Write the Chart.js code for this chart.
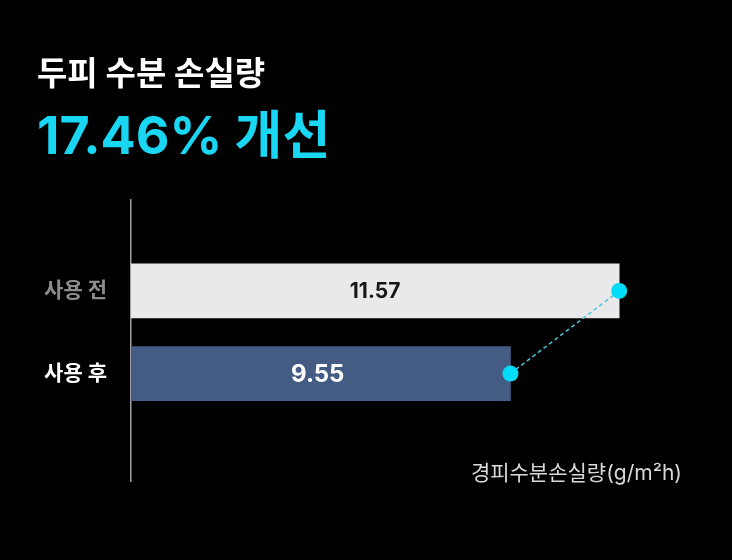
<!DOCTYPE html>
<html>
<head>
<meta charset="utf-8">
<script src="https://cdn.jsdelivr.net/npm/chart.js@4"></script>
<style>
  html, body { margin: 0; padding: 0; background: #000; }
  #wrap { width: 732px; height: 560px; }
</style>
</head>
<body>
<div id="wrap"><canvas id="c" width="732" height="560"></canvas></div>
<script>
const titleText = '두피 수분 손실량';
const subtitleText = '17.46% 개선';
const categories = ['사용 전', '사용 후'];
const values = [11.57, 9.55];
const valueLabels = ['11.57', '9.55'];
const unitLabel = '경피수분손실량(g/m²h)';

const FONT = 'Inter, "Noto Sans CJK KR", "Noto Sans", sans-serif';
const barColors = ['#e9e9ec', '#445c84'];
const tickColors = ['#8c8c8c', '#ffffff'];
const valueColors = ['#161616', '#ffffff'];
const valueSizes = [21, 24];

const points = categories.map((c, i) => ({ x: values[i], y: i }));

const bgPlugin = {
  id: 'bg',
  beforeDraw(chart) {
    const ctx = chart.ctx;
    ctx.save();
    ctx.fillStyle = '#000';
    ctx.fillRect(0, 0, chart.width, chart.height);
    ctx.restore();
  }
};

const labelPlugin = {
  id: 'labels',
  afterDatasetsDraw(chart) {
    const ctx = chart.ctx;
    const area = chart.chartArea;
    const meta = chart.getDatasetMeta(0);
    ctx.save();
    ctx.textAlign = 'center';
    ctx.textBaseline = 'middle';
    meta.data.forEach((el, i) => {
      const left = Math.max(el.base, area.left);
      ctx.font = 'bold ' + valueSizes[i] + 'px ' + FONT;
      ctx.fillStyle = valueColors[i];
      ctx.fillText(valueLabels[i], (left + el.x) / 2 - (i === 1 ? 3 : 0), el.y + 1);
    });
    ctx.font = '21px ' + FONT;
    ctx.fillStyle = '#d8d8d8';
    ctx.textAlign = 'right';
    ctx.fillText(unitLabel, area.right + 2, area.bottom - 7);
    ctx.restore();
  }
};

new Chart(document.getElementById('c'), {
  type: 'bar',
  data: {
    datasets: [
      {
        type: 'bar',
        data: points,
        backgroundColor: barColors,
        barThickness: 54,
        order: 1
      },
      {
        type: 'line',
        data: points,
        indexAxis: 'y',
        borderColor: '#4cc6d8',
        borderWidth: 1.5,
        borderDash: [4, 3],
        pointRadius: 8,
        pointBackgroundColor: '#00dcf8',
        pointBorderWidth: 0,
        pointHoverRadius: 8,
        fill: false,
        order: 0
      }
    ]
  },
  options: {
    indexAxis: 'y',
    responsive: false,
    animation: false,
    devicePixelRatio: 1,
    layout: { padding: { left: 37, right: 52, top: 0, bottom: 79 } },
    plugins: {
      legend: { display: false },
      tooltip: { enabled: false },
      title: {
        display: true,
        text: titleText,
        align: 'start',
        color: '#ffffff',
        font: { family: FONT, size: 33, weight: 'bold', lineHeight: 1.2 },
        padding: { top: 55, bottom: 13 }
      },
      subtitle: {
        display: true,
        text: subtitleText,
        align: 'start',
        color: '#19d6f3',
        font: { family: FONT, size: 52, weight: 'bold', lineHeight: 1.2 },
        padding: { top: 0, bottom: 30 }
      }
    },
    scales: {
      x: {
        type: 'linear',
        display: false,
        min: 2.5,
        max: 12.7
      },
      y: {
        type: 'linear',
        reverse: true,
        offset: false,
        min: -1.1,
        max: 2.3,
        grid: { display: false, offset: false },
        border: { display: true, color: '#a0a0a0', width: 1.5 },
        afterBuildTicks(scale) {
          scale.ticks = categories.map((c, i) => ({ value: i }));
        },
        afterFit(scale) { scale.width = 94; },
        ticks: {
          padding: 16,
          font: { family: FONT, size: 21, weight: 'bold' },
          color: (ctx) => tickColors[ctx.index],
          callback: (v) => categories[v]
        }
      }
    }
  },
  plugins: [bgPlugin, labelPlugin]
});
</script>
</body>
</html>
